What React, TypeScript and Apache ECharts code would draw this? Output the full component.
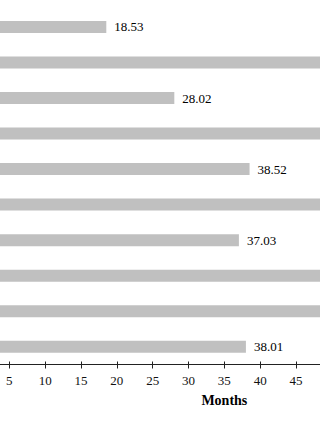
import React, { useEffect, useRef } from "react";
import * as echarts from "echarts";

const categories = ["Item 1", "Item 2", "Item 3", "Item 4", "Item 5", "Item 6", "Item 7", "Item 8", "Item 9", "Item 10"];
const values = [18.53, 62.4, 28.02, 60.85, 38.52, 63.1, 37.03, 61.7, 59.9, 38.01];
const xTicks = { min: 0, max: 70, interval: 5 };

const FONT = "'Liberation Serif', 'Times New Roman', serif";

export default function App() {
  const ref = useRef<HTMLDivElement>(null);
  useEffect(() => {
    if (!ref.current) return;
    const chart = echarts.init(ref.current, undefined, { renderer: "svg" });
    const gridLeft = -26.5;
    const gridWidth = 501.7;
    const gridTop = 9.2;
    const gridHeight = 355.3;
    chart.setOption({
      animation: false,
      grid: [
        { left: gridLeft, width: gridWidth, top: gridTop, height: gridHeight, containLabel: false, outerBoundsMode: "none" },
        { left: gridLeft, width: gridWidth, top: gridTop + gridHeight - 1, height: 1, containLabel: false, outerBoundsMode: "none" },
      ],
      xAxis: [
        {
          type: "value",
          gridIndex: 0,
          min: xTicks.min,
          max: xTicks.max,
          interval: xTicks.interval,
          name: "Months",
          nameLocation: "middle",
          nameGap: 29,
          nameTextStyle: { fontFamily: FONT, fontWeight: "bold", fontSize: 14, color: "#000" },
          axisLine: { show: true, lineStyle: { color: "#222", width: 1 } },
          axisTick: { show: true, inside: false, length: 4, lineStyle: { color: "#222" } },
          axisLabel: { fontFamily: FONT, fontSize: 13, color: "#111", margin: 9 },
          splitLine: { show: false },
        },
        {
          type: "value",
          gridIndex: 1,
          position: "bottom",
          min: xTicks.min,
          max: xTicks.max,
          interval: xTicks.interval,
          axisLine: { show: false },
          axisTick: { show: true, inside: true, length: 3, lineStyle: { color: "#222" } },
          axisLabel: { show: false },
          splitLine: { show: false },
        },
      ],
      yAxis: [
        {
          type: "category",
          gridIndex: 0,
          data: categories,
          inverse: true,
          axisLine: { show: true, lineStyle: { color: "#222" } },
          axisTick: { show: false },
          axisLabel: { show: false },
        },
        {
          type: "category",
          gridIndex: 1,
          data: ["x"],
          show: false,
        },
      ],
      series: [
        {
          type: "bar",
          xAxisIndex: 0,
          yAxisIndex: 0,
          data: values,
          barWidth: 12,
          itemStyle: { color: "#c0c0c0" },
          label: {
            show: true,
            position: "right",
            distance: 8,
            fontFamily: FONT,
            fontSize: 13,
            color: "#000",
            formatter: (p: any) => p.value.toFixed(2),
          },
        },
      ],
    });
    return () => chart.dispose();
  }, []);
  return (
    <div
      ref={ref}
      style={{ position: "fixed", left: 0, top: 0, width: 320, height: 427, background: "#fff" }}
    />
  );
}
